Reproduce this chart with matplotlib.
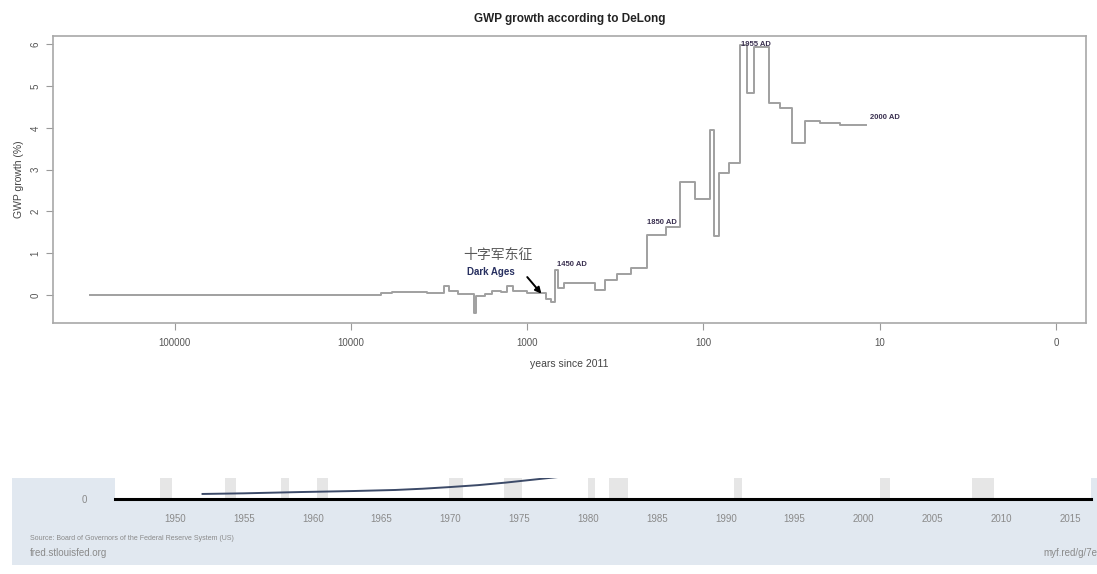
import numpy as np
import matplotlib
matplotlib.use("Agg")
import matplotlib.pyplot as plt

plt.rcParams["font.family"] = ["Liberation Sans", "DejaVu Sans"]

# ── top chart: GWP growth (step) ─────────────────────────────────────────────
# breakpoints in years before 2011 (left edge of each step), last = end point
YEARS_AGO = [302000, 6790, 5830, 3690, 2970, 2790, 2455, 2010, 1946, 1725,
             1574, 1417, 1310, 1211, 996, 787, 728, 691, 670, 622,
             410, 360, 311, 259, 210, 164, 135, 111, 92, 87,
             82, 72, 62, 56.5, 51.8, 42.7, 36.9, 31.4, 26.7, 21.9,
             16.9, 11.9]
GROWTH = [0.0, 0.055, 0.08, 0.06, 0.21, 0.10, 0.02, -0.42, -0.03, 0.02,
          0.10, 0.08, 0.21, 0.10, 0.05, -0.10, -0.17, 0.60, 0.16, 0.28,
          0.12, 0.36, 0.50, 0.64, 1.44, 1.63, 2.71, 2.29, 3.95, 1.42,
          2.91, 3.15, 5.98, 4.83, 5.94, 4.59, 4.47, 3.63, 4.17, 4.12,
          4.07]

X_TICKS = [100000, 10000, 1000, 100, 10, 1]
X_TICK_LABELS = ["100000", "10000", "1000", "100", "10", "0"]

LABELS = ["1450 AD", "1850 AD", "1955 AD", "2000 AD"]
LABEL_X = [556, 171, 50.4, 9.4]
LABEL_Y = [0.73, 1.73, 6.0, 4.25]

# ── bottom strip: FRED fragment ──────────────────────────────────────────────
FRED_YEARS = [1952, 1955, 1959, 1963, 1966, 1968, 1970, 1972, 1974, 1976, 1978]
FRED_VALUES = [24, 27, 33, 38, 43, 49, 57, 66, 78, 92, 106]
RECESSIONS = [(1948.9, 1949.8), (1953.6, 1954.4), (1957.7, 1958.3),
              (1960.3, 1961.1), (1969.9, 1970.9), (1973.9, 1975.2),
              (1980.0, 1980.5), (1981.5, 1982.9), (1990.6, 1991.2),
              (2001.2, 2001.9), (2007.9, 2009.5)]
FRED_TICKS = list(range(1950, 2016, 5))

W, H = 1097, 574
fig = plt.figure(figsize=(W / 100, H / 100), dpi=100)


def box(l, t, r, b):
    return [l / W, 1 - b / H, (r - l) / W, (b - t) / H]


# ─────────────────────────────────────────────────────────────────────────────
ax = fig.add_axes(box(53, 36, 1086, 323))
xs = YEARS_AGO
ys = GROWTH + [GROWTH[-1]]
ax.step(xs, ys, where="post", color="#a0a0a0", lw=1.4)
ax.set_xscale("log")
ax.set_xlim(10 ** 5.69, 10 ** -0.17)
ax.set_ylim(-0.67, 6.2)
ax.set_xticks(X_TICKS)
ax.set_xticklabels(X_TICK_LABELS)
ax.minorticks_off()
ax.set_yticks(range(0, 7))
for lbl in ax.get_yticklabels():
    lbl.set_rotation(90)
    lbl.set_va("center")
ax.tick_params(colors="#9a9a9a", labelcolor="#555555", labelsize=7, length=5, width=0.8)
ax.tick_params(axis="y", pad=4)
ax.tick_params(axis="x", pad=6)
for s in ax.spines.values():
    s.set_color("#a8a8a8")
    s.set_linewidth(1.2)
ax.set_title("GWP growth according to DeLong", fontsize=8.5, fontweight="bold",
             color="#222222", pad=10)
ax.set_xlabel("years since 2011", fontsize=7.5, color="#444444", labelpad=8)
ax.set_ylabel("GWP growth (%)", fontsize=7.5, color="#444444", labelpad=5)

for t, x, y in zip(LABELS, LABEL_X, LABEL_Y):
    ax.text(x, y, t, fontsize=5.5, fontweight="bold", color="#3a3050",
            ha="center", va="center")

ax.text(1474, 0.96, "十字军东征", fontsize=10, color="#5a5a5a", ha="center", va="center",
        family=["Noto Sans CJK SC", "DejaVu Sans"])
ax.text(1615, 0.56, "Dark Ages", fontsize=7, fontweight="bold", color="#283060",
        ha="center", va="center")
ax.annotate("", xy=(811, -0.02), xytext=(1023, 0.48),
            arrowprops=dict(arrowstyle="-|>", color="black", lw=1.4,
                            mutation_scale=9))

# ─────────────────────────────────────────────────────────────────────────────
# FRED strip background
bg = fig.add_axes(box(12, 478, 1097, 565))
bg.set_facecolor("#e1e8f0")
bg.set_xticks([]); bg.set_yticks([])
for s in bg.spines.values():
    s.set_visible(False)

ax2 = fig.add_axes(box(115, 478, 1091, 499))
ax2.set_facecolor("white")
x_lo = (115 - 175) / 13.77 + 1950
x_hi = (1091 - 175) / 13.77 + 1950
ax2.set_xlim(x_lo, x_hi)
ax2.set_ylim(0, 100)
for a, b in RECESSIONS:
    ax2.axvspan(a, b, color="#e6e6e6", lw=0)
ax2.plot(FRED_YEARS, FRED_VALUES, color="#3c4a68", lw=1.4, clip_on=True)
ax2.axhline(0, color="black", lw=2.2, clip_on=False)
for s in ax2.spines.values():
    s.set_visible(False)
ax2.set_xticks(FRED_TICKS)
ax2.set_xticklabels([str(y) for y in FRED_TICKS], fontsize=7, color="#8a8a8a",
                    family=["Liberation Sans Narrow", "Liberation Sans"])
ax2.tick_params(axis="x", length=0, pad=11)
ax2.set_yticks([0])
ax2.set_yticklabels(["0"], fontsize=7, color="#8a8a8a")
ax2.tick_params(axis="y", length=0, pad=20)

fig.text(30 / W, 1 - 539 / H, "Source: Board of Governors of the Federal Reserve System (US)",
         fontsize=5, color="#8a8a8a", va="center")
fig.text(30 / W, 1 - 553 / H, "fred.stlouisfed.org", fontsize=7, color="#8a8a8a", va="center")
fig.text(1097 / W, 1 - 553 / H, "myf.red/g/7e", fontsize=7, color="#8a8a8a",
         va="center", ha="right")

fig.savefig("out.png", dpi=100)
